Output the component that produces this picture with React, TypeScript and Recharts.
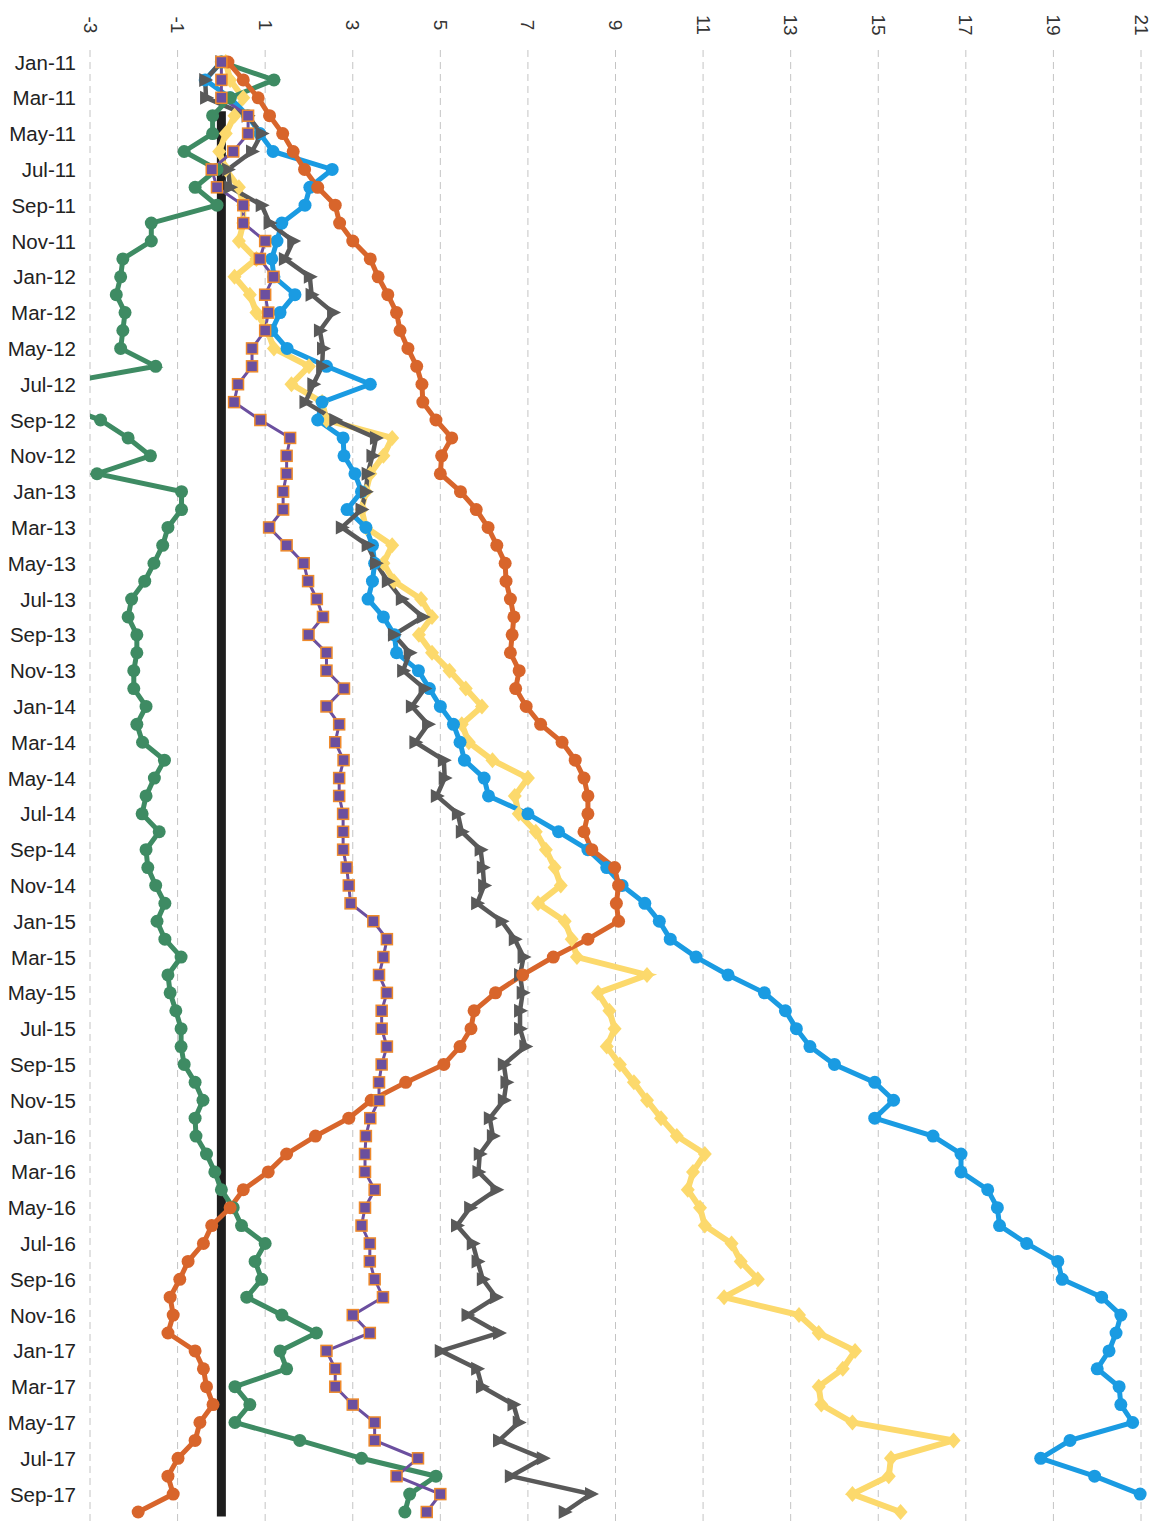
import React from 'react';
import { LineChart, Line, XAxis, YAxis, CartesianGrid, ReferenceLine } from 'recharts';

const months = [
  'Jan-11', 'Feb-11', 'Mar-11', 'Apr-11', 'May-11', 'Jun-11', 'Jul-11', 'Aug-11', 'Sep-11', 'Oct-11', 'Nov-11', 'Dec-11',
  'Jan-12', 'Feb-12', 'Mar-12', 'Apr-12', 'May-12', 'Jun-12', 'Jul-12', 'Aug-12', 'Sep-12', 'Oct-12', 'Nov-12', 'Dec-12',
  'Jan-13', 'Feb-13', 'Mar-13', 'Apr-13', 'May-13', 'Jun-13', 'Jul-13', 'Aug-13', 'Sep-13', 'Oct-13', 'Nov-13', 'Dec-13',
  'Jan-14', 'Feb-14', 'Mar-14', 'Apr-14', 'May-14', 'Jun-14', 'Jul-14', 'Aug-14', 'Sep-14', 'Oct-14', 'Nov-14', 'Dec-14',
  'Jan-15', 'Feb-15', 'Mar-15', 'Apr-15', 'May-15', 'Jun-15', 'Jul-15', 'Aug-15', 'Sep-15', 'Oct-15', 'Nov-15', 'Dec-15',
  'Jan-16', 'Feb-16', 'Mar-16', 'Apr-16', 'May-16', 'Jun-16', 'Jul-16', 'Aug-16', 'Sep-16', 'Oct-16', 'Nov-16', 'Dec-16',
  'Jan-17', 'Feb-17', 'Mar-17', 'Apr-17', 'May-17', 'Jun-17', 'Jul-17', 'Aug-17', 'Sep-17', 'Oct-17',
];

const valueTicks = [-3, -1, 1, 3, 5, 7, 9, 11, 13, 15, 17, 19, 21];

// series, one value per month
const green = [
  0, 1.2, 0.2, -0.2, -0.2, -0.85, -0.1, -0.6, -0.1, -1.6, -1.6, -2.25,
  -2.3, -2.4, -2.2, -2.25, -2.3, -1.5, -3.8, -3.9, -2.76, -2.13, -1.62, -2.84,
  -0.91, -0.91, -1.22, -1.34, -1.54, -1.75, -2.05, -2.13, -1.93, -1.93, -2.0, -2.0,
  -1.72, -1.93, -1.8, -1.3, -1.53, -1.72, -1.81, -1.42, -1.72, -1.68, -1.5, -1.29,
  -1.47, -1.29, -0.92, -1.22, -1.17, -1.04, -0.92, -0.92, -0.85, -0.6, -0.42, -0.6,
  -0.58, -0.34, -0.15, 0.0, 0.27, 0.46, 1.0, 0.77, 0.92, 0.58, 1.38, 2.17,
  1.34, 1.49, 0.31, 0.65, 0.31, 1.79, 3.2, 4.9, 4.3, 4.19,
];

const orange = [
  0.15, 0.5, 0.84, 1.1, 1.4, 1.64, 1.9, 2.2, 2.6, 2.7, 3.0, 3.4,
  3.58, 3.8, 4.0, 4.08, 4.26, 4.46, 4.58, 4.6, 4.9, 5.26, 5.03, 5.0,
  5.46, 5.82, 6.09, 6.29, 6.48, 6.5, 6.6, 6.68, 6.64, 6.6, 6.8, 6.72,
  6.96, 7.29, 7.78, 8.08, 8.28, 8.37, 8.37, 8.28, 8.46, 8.98, 9.07, 9.02,
  9.07, 8.37, 7.58, 6.88, 6.26, 5.77, 5.7, 5.45, 5.08, 4.21, 3.42, 2.91,
  2.15, 1.49, 1.07, 0.5, 0.2, -0.22, -0.41, -0.76, -0.95, -1.17, -1.1, -1.22,
  -0.6, -0.41, -0.34, -0.19, -0.49, -0.6, -0.99, -1.22, -1.1, -1.9,
];

const blue = [
  0.0, -0.37, 0.2, 0.6, 0.88, 1.18, 2.53, 2.02, 1.91, 1.38, 1.27, 1.15,
  1.2, 1.68, 1.34, 1.15, 1.5, 2.4, 3.4, 2.3, 2.2, 2.78, 2.8, 3.05,
  3.2, 2.87, 3.3, 3.45, 3.5, 3.45, 3.35, 3.7, 3.95, 4.0, 4.5, 4.75,
  5.0, 5.3, 5.45, 5.55, 6.0, 6.1, 7.0, 7.7, 8.37, 8.8, 9.15, 9.67,
  10.0, 10.25, 10.84, 11.57, 12.4, 12.88, 13.13, 13.44, 14.0, 14.92, 15.35, 14.92,
  16.25, 16.89, 16.89, 17.5, 17.72, 17.77, 18.39, 19.1, 19.2, 20.1, 20.54, 20.43,
  20.27, 20.0, 20.5, 20.54, 20.81, 19.38, 18.71, 19.94, 20.98, null,
];

const yellow = [
  0.1, 0.2, 0.5, 0.3, 0.1, -0.05, 0.1, 0.4, 0.5, 0.5, 0.4, 0.8,
  0.3, 0.65, 0.8, 1.05, 1.2, 2.0, 1.6, 2.3, 2.4, 3.9, 3.7, 3.4,
  3.3, 3.2, 3.3, 3.9, 3.7, 3.94, 4.56, 4.81, 4.51, 4.81, 5.21, 5.58,
  5.95, 5.49, 5.65, 6.19, 7.0, 6.7, 6.79, 7.18, 7.41, 7.61, 7.75, 7.23,
  7.84, 8.0, 8.12, 9.72, 8.6, 8.86, 8.98, 8.8, 9.1, 9.42, 9.72, 10.04,
  10.4, 11.04, 10.77, 10.65, 10.93, 11.04, 11.65, 11.86, 12.25, 11.48, 13.19, 13.64,
  14.47, 14.19, 13.64, 13.7, 14.41, 16.72, 15.29, 15.24, 14.41, 15.51,
];

const gray = [
  0.0, -0.37, -0.35, 0.6, 0.92, 0.7, 0.15, 0.2, 0.92, 1.1, 1.64, 1.45,
  2.02, 2.06, 2.55, 2.25, 2.32, 2.3, 2.1, 1.92, 2.6, 3.53, 3.45, 3.34,
  3.3, 3.2, 2.75, 3.34, 3.53, 3.8, 4.12, 4.6, 3.94, 4.3, 4.15, 4.64,
  4.35, 4.72, 4.43, 5.08, 5.1, 4.92, 5.4, 5.49, 5.92, 5.97, 6.0, 5.84,
  6.4, 6.7, 6.9, 6.82, 6.88, 6.82, 6.82, 6.94, 6.45, 6.51, 6.45, 6.13,
  6.2, 5.9, 5.87, 6.28, 5.68, 5.38, 5.74, 5.85, 5.97, 6.27, 5.62, 6.34,
  5.01, 5.84, 5.95, 6.67, 6.79, 6.34, 7.34, 6.61, 8.44, 7.84,
];

const purple = [
  0, 0, 0, 0.61, 0.61, 0.27, -0.22, -0.1, 0.5, 0.5, 1.0, 0.88,
  1.19, 1.0, 1.07, 1.0, 0.7, 0.7, 0.38, 0.29, 0.89, 1.57, 1.49, 1.49,
  1.41, 1.41, 1.09, 1.49, 1.88, 1.98, 2.18, 2.32, 1.99, 2.4, 2.4, 2.8,
  2.4, 2.69, 2.6, 2.79, 2.69, 2.69, 2.78, 2.78, 2.78, 2.86, 2.91, 2.95,
  3.47, 3.78, 3.7, 3.6, 3.78, 3.66, 3.66, 3.78, 3.66, 3.6, 3.6, 3.4,
  3.3, 3.28, 3.28, 3.5, 3.28, 3.2, 3.39, 3.39, 3.5, 3.69, 3.0, 3.39,
  2.4, 2.6, 2.6, 3.0, 3.5, 3.5, 4.49, 4.0, 5.0, 4.69,
];

const data = months.map((month, i) => ({
  month,
  green: green[i],
  orange: orange[i],
  blue: blue[i],
  yellow: yellow[i],
  gray: gray[i],
  purple: purple[i],
}));

const FONT = '"Liberation Sans", Arial, Helvetica, sans-serif';

const circleDot = (color: string) => (props: any) => {
  const { cx, cy, index } = props;
  if (cx == null || cy == null) return null;
  return <circle key={`c-${color}-${index}`} cx={cx} cy={cy} r={6.5} fill={color} />;
};

const diamondDot = (props: any) => {
  const { cx, cy, index } = props;
  if (cx == null || cy == null) return null;
  const pts = `${cx},${cy - 8} ${cx + 7},${cy} ${cx},${cy + 8} ${cx - 7},${cy}`;
  return <polygon key={`dm-${index}`} points={pts} fill="#fcd96c" />;
};

const triangleDot = (props: any) => {
  const { cx, cy, index } = props;
  if (cx == null || cy == null) return null;
  const pts = `${cx + 8},${cy} ${cx - 6},${cy - 7} ${cx - 6},${cy + 7}`;
  return <polygon key={`tr-${index}`} points={pts} fill="#595959" />;
};

const squareDot = (props: any) => {
  const { cx, cy, index } = props;
  if (cx == null || cy == null) return null;
  return (
    <rect
      key={`sq-${index}`}
      x={cx - 5.5}
      y={cy - 5.5}
      width={11}
      height={11}
      fill="#6b4f9f"
      stroke="#ee8a2c"
      strokeWidth={1.5}
    />
  );
};

const ValueTick = (props: any) => {
  const { x, payload } = props;
  return (
    <text
      x={x}
      y={25}
      transform={`rotate(90 ${x} 25)`}
      textAnchor="middle"
      dominantBaseline="central"
      fontSize={19}
      fontFamily={FONT}
      fill="#333"
    >
      {payload.value}
    </text>
  );
};

const MonthTick = (props: any) => {
  const { y, payload } = props;
  return (
    <text
      x={76}
      y={y}
      textAnchor="end"
      dominantBaseline="central"
      fontSize={20.5}
      fontFamily={FONT}
      fill="#222"
    >
      {payload.value}
    </text>
  );
};

export default function App() {
  return (
    <div style={{ position: 'absolute', left: 0, top: 0, width: 1159, height: 1521, background: '#fff' }}>
      <LineChart
        width={1159}
        height={1521}
        data={data}
        layout="vertical"
        margin={{ top: 0, right: 18, bottom: 0, left: 0 }}
      >
        <CartesianGrid horizontal={false} stroke="#c4c4c4" strokeDasharray="7 5" />
        <XAxis
          type="number"
          orientation="top"
          domain={[-3, 21]}
          ticks={valueTicks}
          interval={0}
          allowDataOverflow
          height={50}
          axisLine={false}
          tickLine={false}
          tick={<ValueTick />}
        />
        <YAxis
          type="category"
          dataKey="month"
          width={90}
          interval={1}
          padding={{ top: 12, bottom: 9 }}
          axisLine={false}
          tickLine={false}
          tick={<MonthTick />}
        />
        <ReferenceLine
          segment={[{ x: 0, y: 'Apr-11' }, { x: 0, y: 'Oct-17' }]}
          stroke="#1e1e1e"
          strokeWidth={9}
          strokeLinecap="square"
          ifOverflow="visible"
        />
        <Line dataKey="yellow" stroke="#fcd96c" strokeWidth={6} dot={diamondDot} isAnimationActive={false} />
        <Line
          dataKey="blue"
          stroke="#1a9be2"
          strokeWidth={5}
          dot={{ r: 6.5, fill: '#1a9be2', stroke: 'none', strokeWidth: 0, clipDot: false }}
          isAnimationActive={false}
        />
        <Line dataKey="gray" stroke="#595959" strokeWidth={4.5} dot={triangleDot} isAnimationActive={false} />
        <Line dataKey="green" stroke="#3e8b63" strokeWidth={5} dot={circleDot('#3e8b63')} isAnimationActive={false} />
        <Line dataKey="orange" stroke="#d8652b" strokeWidth={5} dot={circleDot('#d8652b')} isAnimationActive={false} />
        <Line dataKey="purple" stroke="#6b4f9f" strokeWidth={3} dot={squareDot} isAnimationActive={false} />
      </LineChart>
    </div>
  );
}
